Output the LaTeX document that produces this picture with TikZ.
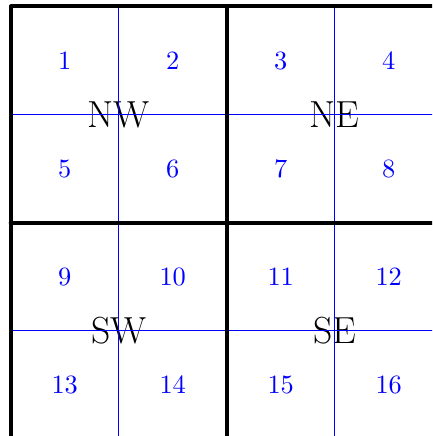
\documentclass[tikz,border=0pt]{standalone}
\begin{document}
\begin{tikzpicture}[x=1pt,y=-1pt,
  num/.style={text=blue,font=\normalsize,scale=2.64,inner sep=0pt},
  quad/.style={text=black,font=\fontsize{37.7pt}{40pt}\selectfont,inner sep=0pt},
  gridline/.style={blue,line width=1.05pt},
  frameline/.style={black,line width=4pt,line join=round,line cap=round}]
\useasboundingbox (0,0) rectangle (432,436);
\clip (0,0) rectangle (432,436);
% numbers
\foreach \r in {0,1,2,3}{
  \foreach \c in {0,1,2,3}{
    \pgfmathtruncatemacro{\n}{4*\r+\c+1}
    \node[num] (n\n) at ({64.7+108*\c},{60.5+108*\r}) {\n};
  }
}
% quadrant labels
\node[quad] (nw) at (118.7,114.5) {NW};
\node[quad] (ne) at (334.7,114.5) {NE};
\node[quad] (sw) at (118.7,330.5) {SW};
\node[quad] (se) at (334.7,330.5) {SE};
% blue subgrid
\draw[gridline] (118.7,6.5) -- (118.7,438.5);
\draw[gridline] (334.7,6.5) -- (334.7,438.5);
\draw[gridline] (10.7,114.5) -- (442.7,114.5);
\draw[gridline] (10.7,330.5) -- (442.7,330.5);
% thick frame
\draw[frameline] (10.7,6.5) rectangle (442.7,438.5);
\draw[frameline] (226.7,6.5) -- (226.7,438.5);
\draw[frameline] (10.7,222.5) -- (442.7,222.5);
\end{tikzpicture}
\end{document}
